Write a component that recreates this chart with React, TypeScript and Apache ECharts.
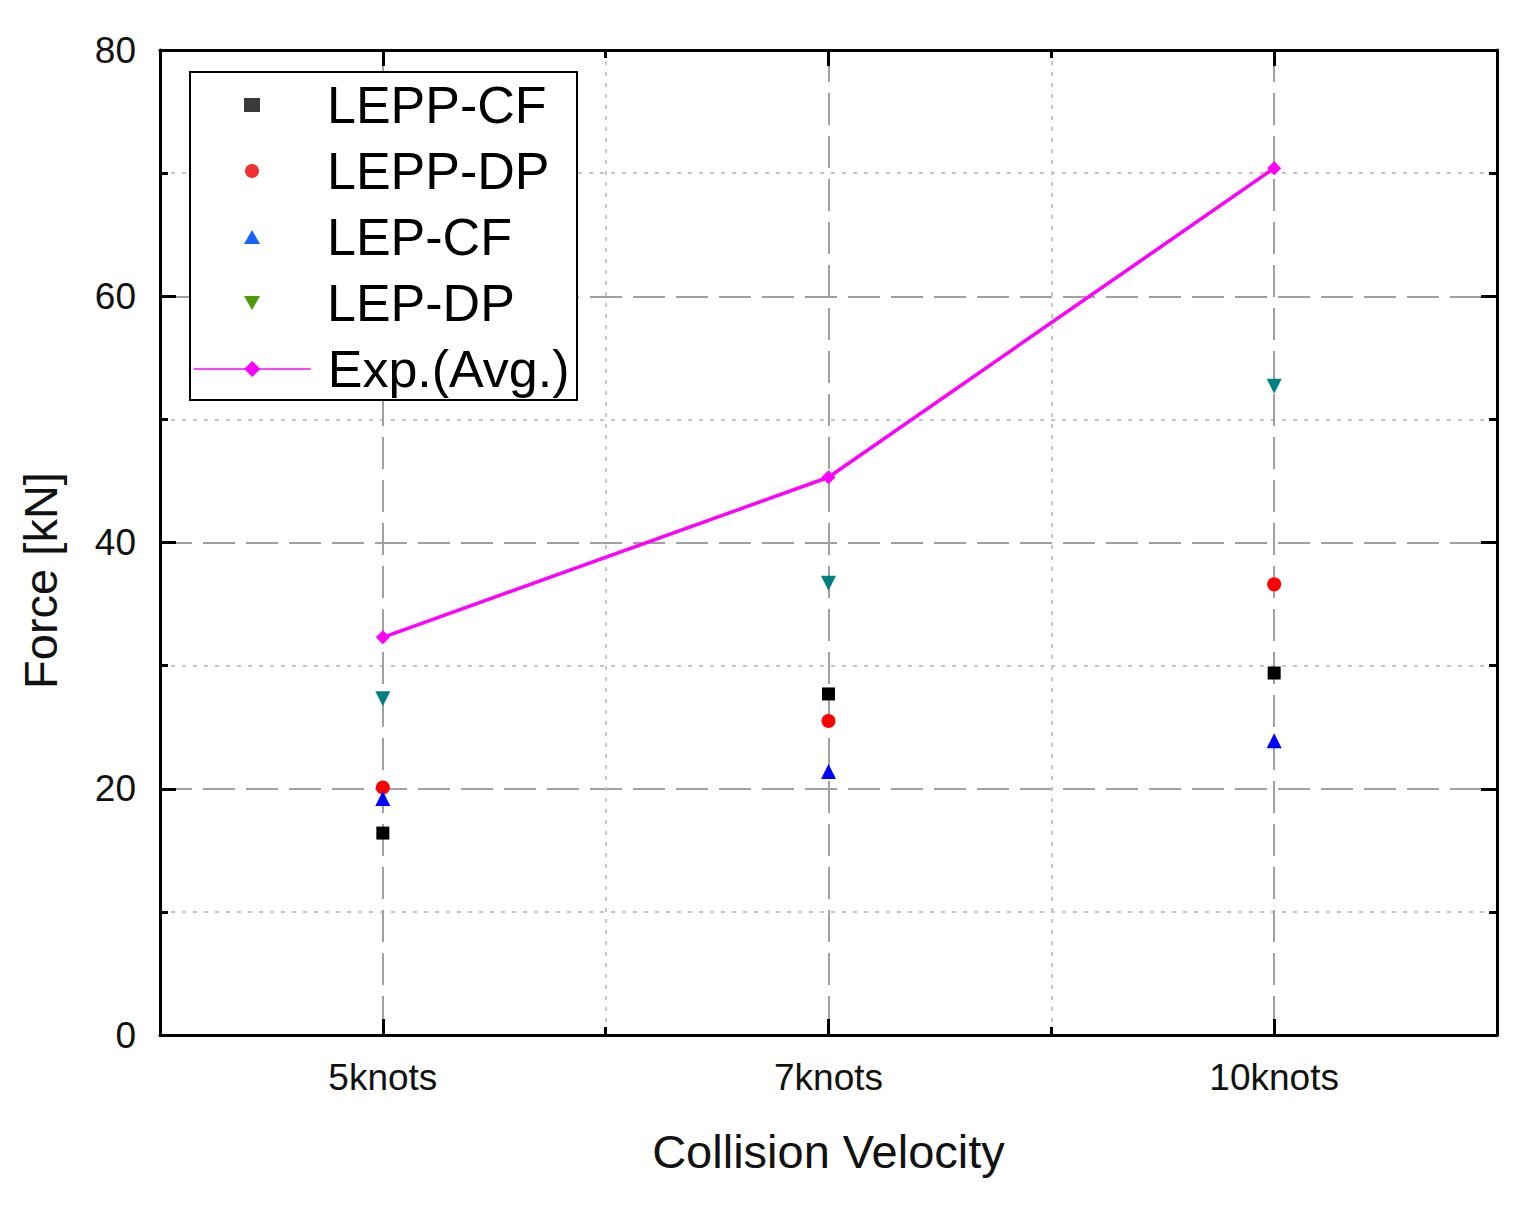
import React, { useEffect, useRef } from 'react'
import * as echarts from 'echarts'

// categories along the x axis (placed at x = 1, 2, 3)
const categories = ['5knots', '7knots', '10knots']

// series values, Force [kN]
const leppCf = [16.4, 27.7, 29.4]
const leppDp = [20.1, 25.5, 36.6]
const lepCf = [19.2, 21.4, 23.9]
const lepDp = [27.3, 36.7, 52.7]
const expAvg = [32.3, 45.3, 70.4]

// y axis ticks
const yMin = 0
const yMax = 80
const yStep = 20

const FONT = '"Liberation Sans", Arial, sans-serif'

const toPoints = (vals: number[]) => vals.map((v, i) => [i + 1, v])

const App: React.FC = () => {
  const chartRef = useRef<HTMLDivElement>(null)

  useEffect(() => {
    document.body.style.margin = '0'
    if (!chartRef.current) return
    const chart = echarts.init(chartRef.current, undefined, { renderer: 'svg' })

    const black = { color: '#000', width: 3 }
    const dashed = { color: '#a0a0a0', width: 2, type: [32, 11] as number[] }
    const dotted = { color: '#c4c4c4', width: 2, type: [4, 7] as number[] }
    const legendText = { fontSize: 52, lineHeight: 56, fontFamily: FONT, color: '#000' }

    const option: echarts.EChartsOption = {
      animation: false,
      backgroundColor: '#fff',
      grid: { left: 160, right: 35, top: 50, bottom: 173 },
      xAxis: [
        {
          // grid + ticks: majors at 1.5/2.5 (dotted), minors at 1/2/3 (dashed)
          type: 'value',
          position: 'bottom',
          min: 0.5,
          max: 3.5,
          interval: 1,
          axisLine: { lineStyle: black },
          axisTick: { inside: true, length: 8, lineStyle: black },
          minorTick: { show: true, splitNumber: 2, length: 16, lineStyle: black },
          axisLabel: { show: false },
          splitLine: { show: true, lineStyle: dotted },
          minorSplitLine: { show: true, lineStyle: dashed }
        },
        {
          // labels only
          type: 'value',
          position: 'bottom',
          min: 0.5,
          max: 3.5,
          interval: 0.5,
          axisLine: { show: false },
          axisTick: { show: false },
          splitLine: { show: false },
          axisLabel: {
            fontSize: 37,
            fontFamily: FONT,
            color: '#111',
            margin: 24,
            formatter: (v: number) => (Number.isInteger(v) ? categories[v - 1] ?? '' : '')
          },
          name: 'Collision Velocity',
          nameLocation: 'middle',
          nameGap: 93,
          nameTextStyle: { fontSize: 47, fontFamily: FONT, color: '#111' }
        },
        {
          type: 'value',
          position: 'top',
          min: 0.5,
          max: 3.5,
          interval: 1,
          axisLine: { lineStyle: black },
          axisTick: { inside: true, length: 8, lineStyle: black },
          minorTick: { show: true, splitNumber: 2, length: 16, lineStyle: black },
          axisLabel: { show: false },
          splitLine: { show: false }
        }
      ],
      yAxis: [
        {
          type: 'value',
          position: 'left',
          min: yMin,
          max: yMax,
          interval: yStep,
          axisLine: { show: true, lineStyle: black },
          axisTick: { show: true, inside: true, length: 16, lineStyle: black },
          minorTick: { show: true, splitNumber: 2, length: 8, lineStyle: black },
          axisLabel: { fontSize: 37, fontFamily: FONT, color: '#111', margin: 24 },
          splitLine: { show: true, lineStyle: dashed },
          minorSplitLine: { show: true, lineStyle: dotted },
          name: 'Force [kN]',
          nameLocation: 'middle',
          nameGap: 96,
          nameTextStyle: { fontSize: 47, fontFamily: FONT, color: '#111', padding: [0, 76, 0, 0] }
        },
        {
          type: 'value',
          position: 'right',
          min: yMin,
          max: yMax,
          interval: yStep,
          axisLine: { show: true, lineStyle: black },
          axisTick: { show: true, inside: true, length: 16, lineStyle: black },
          minorTick: { show: true, splitNumber: 2, length: 8, lineStyle: black },
          axisLabel: { show: false },
          splitLine: { show: false }
        }
      ],
      // legend frame
      graphic: [
        {
          type: 'rect',
          z: 3,
          shape: { x: 190, y: 72, width: 387, height: 328 },
          style: { fill: '#fff', stroke: '#000', lineWidth: 2 }
        }
      ],
      legend: [
        {
          // scatter entries: small icons
          orient: 'vertical',
          left: 244,
          top: 77,
          padding: 0,
          itemWidth: 16,
          itemHeight: 14,
          itemGap: 10,
          selectedMode: false,
          z: 4,
          textStyle: { ...legendText, padding: [0, 0, 0, 62] },
          data: [
            { name: 'LEPP-CF', icon: 'rect', itemStyle: { color: '#3a3a3a', opacity: 1 } },
            { name: 'LEPP-DP', icon: 'circle', itemStyle: { color: '#f03030', opacity: 1 } },
            { name: 'LEP-CF', icon: 'triangle', itemStyle: { color: '#1a60ff', opacity: 1 } },
            { name: 'LEP-DP', icon: 'path://M0,0 L16,0 L8,14 Z', itemStyle: { color: '#4e9a06', opacity: 1 } }
          ]
        },
        {
          // line entry: long line icon
          orient: 'vertical',
          left: 193,
          top: 341,
          padding: 0,
          itemWidth: 117,
          itemHeight: 20,
          selectedMode: false,
          z: 4,
          textStyle: { ...legendText, padding: [0, 0, 0, 12] },
          data: [
            { name: 'Exp.(Avg.)', itemStyle: { color: '#ff00ff' }, lineStyle: { color: '#ff00ff', width: 1.5 } }
          ]
        }
      ],
      series: [
        {
          name: 'LEPP-CF',
          type: 'scatter',
          symbol: 'rect',
          symbolSize: 13,
          itemStyle: { color: '#000', opacity: 1 },
          data: toPoints(leppCf)
        },
        {
          name: 'LEPP-DP',
          type: 'scatter',
          symbol: 'circle',
          symbolSize: 14,
          itemStyle: { color: '#ff0000', opacity: 1 },
          data: toPoints(leppDp)
        },
        {
          name: 'LEP-CF',
          type: 'scatter',
          symbol: 'triangle',
          symbolSize: 15,
          itemStyle: { color: '#0000ff', opacity: 1 },
          data: toPoints(lepCf)
        },
        {
          name: 'LEP-DP',
          type: 'scatter',
          symbol: 'triangle',
          symbolRotate: 180,
          symbolSize: 15,
          itemStyle: { color: '#008080', opacity: 1 },
          data: toPoints(lepDp)
        },
        {
          name: 'Exp.(Avg.)',
          type: 'line',
          symbol: 'diamond',
          symbolSize: 14,
          itemStyle: { color: '#ff00ff' },
          lineStyle: { color: '#ff00ff', width: 3.5 },
          data: toPoints(expAvg)
        }
      ]
    }

    chart.setOption(option)

    return () => {
      chart.dispose()
    }
  }, [])

  return <div ref={chartRef} style={{ width: 1532, height: 1208 }} />
}

export default App
